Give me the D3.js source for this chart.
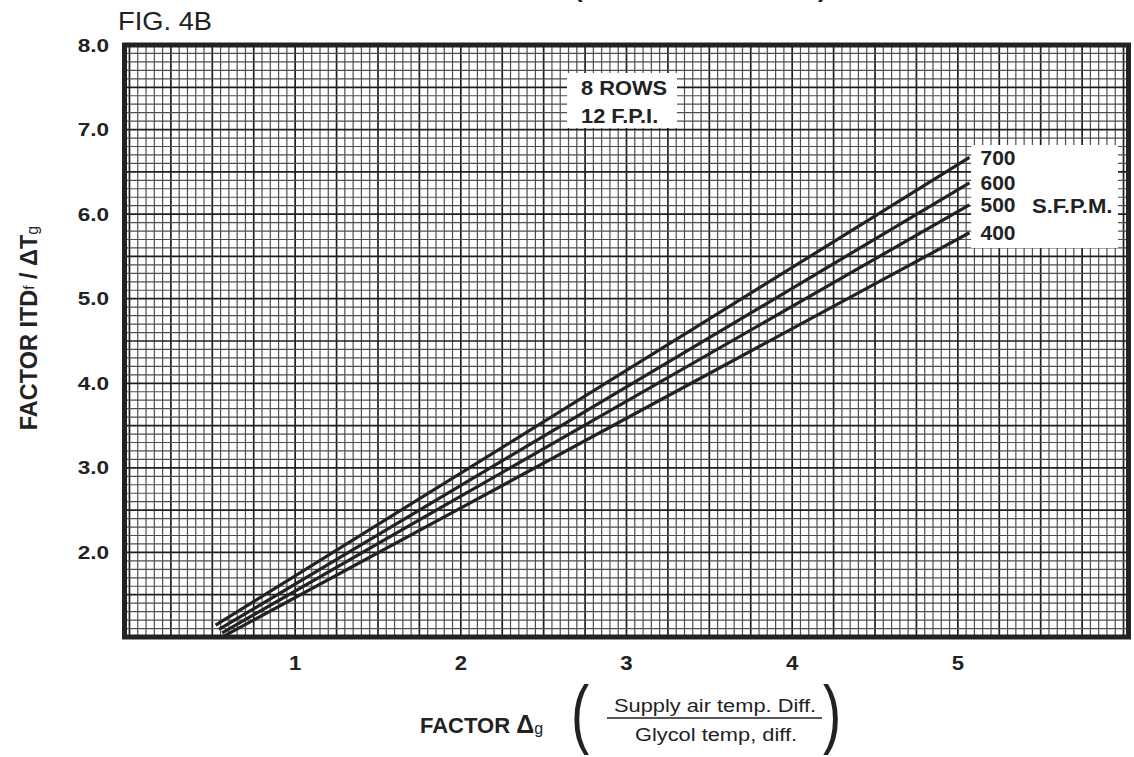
<!DOCTYPE html>
<html>
<head>
<meta charset="utf-8">
<script src="https://cdn.jsdelivr.net/npm/d3@7"></script>
<style>
  body { margin: 0; background: #fff; }
  svg { display: block; }
  text { font-family: Arial, "Liberation Sans", Helvetica, sans-serif; fill: #222; }
</style>
</head>
<body>
<div id="chart"></div>
<script>
// data
const sfpm = [700, 600, 500, 400];
const startX = [0.52, 0.54, 0.56, 0.57];
const startY = [1.14, 1.09, 1.05, 1.01];
const endX = [5.07, 5.07, 5.07, 5.07];
const endY = [6.67, 6.37, 6.11, 5.78];

const xTicks = [1, 2, 3, 4, 5];
const yTicks = [2, 3, 4, 5, 6, 7, 8];

const width = 1134, height = 757;
const ink = '#222';

const svg = d3.select('#chart')
  .append('svg')
  .attr('width', width)
  .attr('height', height);

const x = d3.scaleLinear().domain([-0.03, 6.03]).range([124.5, 1128.5]);
const y = d3.scaleLinear().domain([1, 8]).range([637, 45]);

// graph paper
const vLines = d3.range(0, 121).map(i => i * 0.05);
const hLines = d3.range(0, 71).map(i => 1 + i * 0.1);
const isMajorX = v => Math.abs(v * 4 - Math.round(v * 4)) < 1e-6;
const isMajorY = v => Math.abs(v * 2 - Math.round(v * 2)) < 1e-6;

const grid = svg.append('g');
grid.selectAll('line.v')
  .data(vLines)
  .join('line')
  .attr('class', 'v')
  .attr('x1', d => x(d)).attr('x2', d => x(d))
  .attr('y1', y(8)).attr('y2', y(1))
  .attr('stroke', d => isMajorX(d) ? '#1e1e1e' : '#4e4e4e')
  .attr('stroke-width', d => isMajorX(d) ? 1.7 : 1.2);

grid.selectAll('line.h')
  .data(hLines)
  .join('line')
  .attr('class', 'h')
  .attr('x1', x(-0.03)).attr('x2', x(6.03))
  .attr('y1', d => y(d)).attr('y2', d => y(d))
  .attr('stroke', d => isMajorY(d) ? '#1e1e1e' : '#4e4e4e')
  .attr('stroke-width', d => isMajorY(d) ? 1.7 : 1.2);

// white label boxes cut out of the paper
svg.append('rect')
  .attr('x', 567).attr('y', 73).attr('width', 110).attr('height', 55)
  .attr('fill', '#fff');
svg.append('rect')
  .attr('x', x(5.08)).attr('y', 145).attr('width', 1118 - x(5.08)).attr('height', 103)
  .attr('fill', '#fff');

// frame
svg.append('rect')
  .attr('x', x(-0.03)).attr('y', y(8))
  .attr('width', x(6.03) - x(-0.03)).attr('height', y(1) - y(8))
  .attr('fill', 'none')
  .attr('stroke', ink)
  .attr('stroke-width', 5);

// S.F.P.M. lines
const lines = sfpm.map((s, i) => ({
  s,
  pts: [[startX[i], startY[i]], [endX[i], endY[i]]]
}));
const lineGen = d3.line().x(d => x(d[0])).y(d => y(d[1]));

svg.selectAll('path.curve')
  .data(lines)
  .join('path')
  .attr('class', 'curve')
  .attr('d', d => lineGen(d.pts))
  .attr('fill', 'none')
  .attr('stroke', ink)
  .attr('stroke-width', 3.2)
  .attr('stroke-linecap', 'butt');

svg.selectAll('text.sfpm')
  .data(lines)
  .join('text')
  .attr('class', 'sfpm')
  .attr('transform', d => `translate(${x(d.pts[1][0]) + 11},${y(d.pts[1][1]) + 7.5}) scale(1.05,1)`)
  .style('font-weight', 'bold')
  .style('font-size', '20px')
  .text(d => d.s);

svg.append('text')
  .attr('transform', 'translate(1032,213) scale(1.05,1)')
  .style('font-weight', 'bold')
  .style('font-size', '21px')
  .text('S.F.P.M.');

svg.append('text')
  .attr('transform', 'translate(581,95) scale(1.04,1)')
  .style('font-weight', 'bold')
  .style('font-size', '21px')
  .text('8 ROWS');
svg.append('text')
  .attr('transform', 'translate(581,123) scale(1.04,1)')
  .style('font-weight', 'bold')
  .style('font-size', '21px')
  .text('12 F.P.I.');

// tick labels
svg.selectAll('text.xt')
  .data(xTicks)
  .join('text')
  .attr('class', 'xt')
  .attr('transform', d => `translate(${x(d)},670) scale(1.08,1)`)
  .attr('text-anchor', 'middle')
  .style('font-weight', 'bold')
  .style('font-size', '20.5px')
  .text(d => d);

svg.selectAll('text.yt')
  .data(yTicks)
  .join('text')
  .attr('class', 'yt')
  .attr('transform', d => `translate(109,${y(d) + 6.5}) scale(1.22,1)`)
  .attr('text-anchor', 'end')
  .style('font-weight', 'bold')
  .style('font-size', '18.5px')
  .text(d => d3.format('.1f')(d));

// y axis title
const yTitle = svg.append('text')
  .attr('transform', 'translate(37,328) rotate(-90)')
  .attr('text-anchor', 'middle')
  .style('font-weight', 'bold')
  .style('font-size', '23.5px');
yTitle.append('tspan').text('FACTOR  ITD');
yTitle.append('tspan').attr('dy', -3).style('font-size', '15px').style('font-weight', 'normal').text('f');
yTitle.append('tspan').attr('dy', 3).text(' / ΔT');
yTitle.append('tspan').attr('dy', 1).style('font-size', '16px').style('font-weight', 'normal').text('g');

// x axis title
const xTitle = svg.append('text')
  .attr('x', 420).attr('y', 733)
  .style('font-weight', 'bold')
  .style('font-size', '22px');
xTitle.append('tspan').text('FACTOR ');
xTitle.append('tspan').style('font-size', '25px').text('Δ');
xTitle.append('tspan').attr('dy', 1).style('font-weight', 'normal').style('font-size', '16px').text('g');

svg.append('text')
  .attr('transform', 'translate(571,739) scale(0.72,1)')
  .style('font-size', '76px')
  .text('(');
svg.append('text')
  .attr('transform', 'translate(823,739) scale(0.72,1)')
  .style('font-size', '76px')
  .text(')');

svg.append('text')
  .attr('transform', 'translate(715,712) scale(1.18,1)')
  .attr('text-anchor', 'middle')
  .style('font-size', '18.5px')
  .text('Supply air temp. Diff.');
svg.append('line')
  .attr('x1', 607).attr('x2', 822)
  .attr('y1', 718).attr('y2', 718)
  .attr('stroke', ink)
  .attr('stroke-width', 1.4);
svg.append('text')
  .attr('transform', 'translate(716,741) scale(1.18,1)')
  .attr('text-anchor', 'middle')
  .style('font-size', '18.5px')
  .text('Glycol temp, diff.');

// figure caption and the cut-off heading above it
svg.append('text')
  .attr('transform', 'translate(118,30) scale(1.05,1)')
  .style('font-size', '26px')
  .text('FIG. 4B');
svg.append('text')
  .attr('x', 574).attr('y', -3.5)
  .style('font-weight', 'bold')
  .style('font-size', '26px')
  .text('(');
svg.append('text')
  .attr('x', 818).attr('y', -3.5)
  .style('font-weight', 'bold')
  .style('font-size', '26px')
  .text(')');
</script>
</body>
</html>
